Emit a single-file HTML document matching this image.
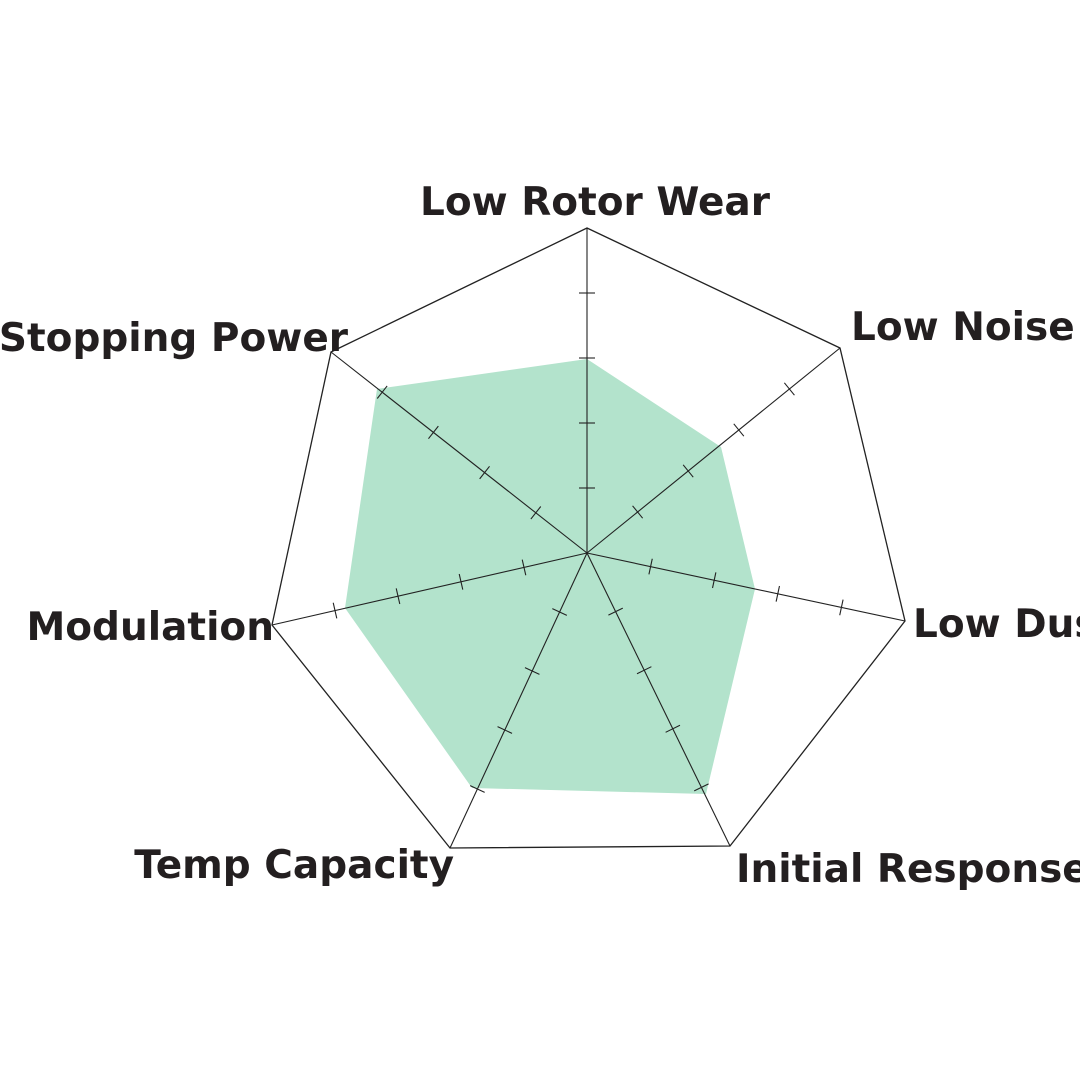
<!DOCTYPE html>
<html><head><meta charset="utf-8"><style>
html,body{margin:0;padding:0;background:#fff;width:1080px;height:1080px;overflow:hidden}
svg{display:block}
text{font-family:"DejaVu Sans","Liberation Sans",sans-serif;font-weight:bold;font-size:39px;fill:#231f20}
</style></head><body>
<svg id="s" width="1080" height="1080" viewBox="0 0 1080 1080">
<polygon points="587,359 721,447 755,589 706,794 472,788 345,608 377,389" fill="#b3e3cc"/>
<polygon points="587,228 840,348 905,621 730,846 450,848 272,625 331,352" fill="none" stroke="#222" stroke-width="1.3"/>
<g id="ax" stroke="#222" stroke-width="1.1"></g>
<text x="595" y="215" text-anchor="middle">Low Rotor Wear</text>
<text x="851" y="340">Low Noise</text>
<text x="913" y="637">Low Dust</text>
<text x="736" y="882">Initial Response</text>
<text x="454" y="878" text-anchor="end">Temp Capacity</text>
<text x="274" y="640" text-anchor="end">Modulation</text>
<text x="348" y="351" text-anchor="end">Stopping Power</text>
</svg>
<script>
var cx=587,cy=553,v=[[587,228],[840,348],[905,621],[730,846],[450,848],[272,625],[331,352]];
var g=document.getElementById('ax'),h='';
v.forEach(function(p){
 h+='<line x1="'+cx+'" y1="'+cy+'" x2="'+p[0]+'" y2="'+p[1]+'"/>';
 var dx=p[0]-cx,dy=p[1]-cy,L=Math.hypot(dx,dy),nx=-dy/L*8,ny=dx/L*8;
 [0.2,0.4,0.6,0.8].forEach(function(t){
  var x=cx+dx*t,y=cy+dy*t;
  h+='<line x1="'+(x-nx)+'" y1="'+(y-ny)+'" x2="'+(x+nx)+'" y2="'+(y+ny)+'"/>';
 });
});
g.innerHTML=h;
</script>
</body></html>
